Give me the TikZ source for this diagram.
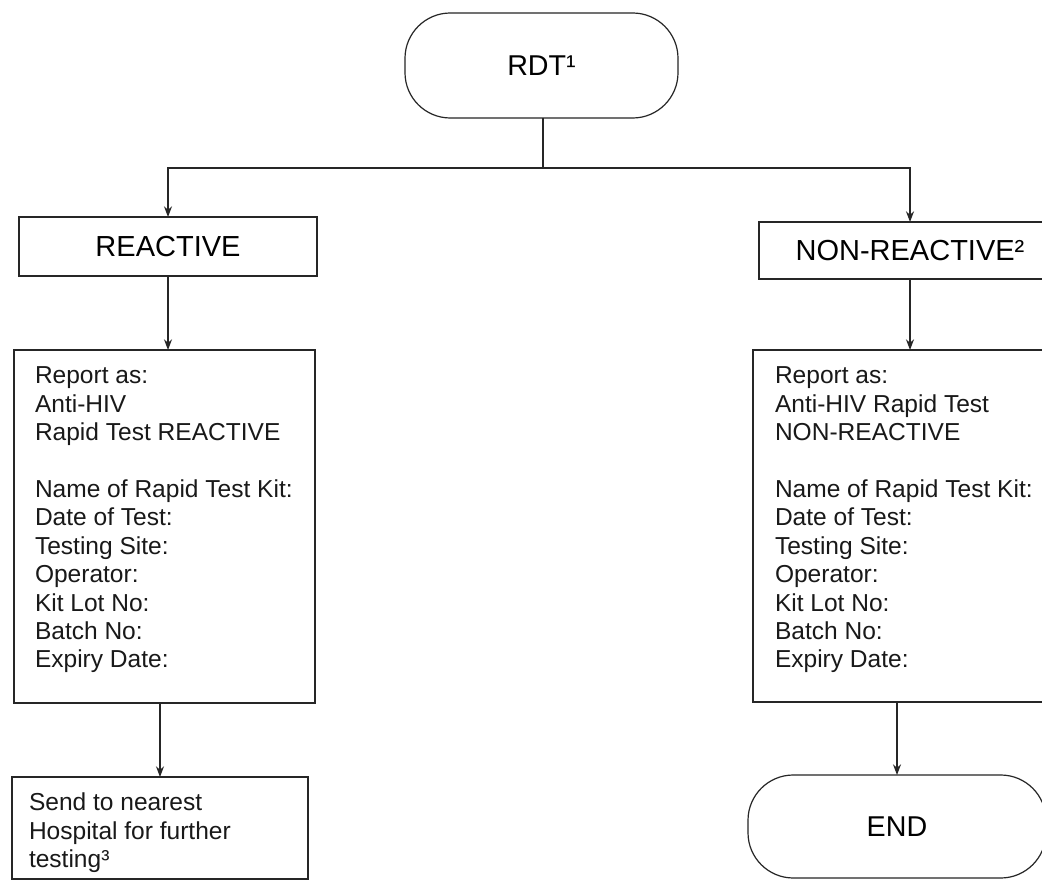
\documentclass[tikz,border=0pt]{standalone}
\usepackage{fontspec}
\setmainfont{Liberation Sans}
\usetikzlibrary{arrows.meta}
\tikzset{
  ln/.style={draw=black!85, line width=0.9pt},
  arr/.style={ln, -{Stealth[length=8pt,width=6pt]}},
  boxbase/.style={ln, rectangle, inner sep=0pt, outer sep=0pt},
  termbox/.style={boxbase, rounded corners=34pt, font=\fontsize{21.5}{24}\selectfont},
  labbox/.style={boxbase, font=\fontsize{21.75}{24}\selectfont},
  plainbox/.style={boxbase},
  bodytext/.style={inner sep=0pt, outer sep=0pt, align=left, anchor=north west,
    font=\fontsize{18.4}{21.3}\selectfont, text=black!90}
}
\begin{document}
\begin{tikzpicture}[x=0.75pt, y=-0.75pt]
\useasboundingbox (0,0) rectangle (1042,880);
\fill[white] (0,0) rectangle (1042,880);
\clip (0,0) rectangle (1042,880);

% terminals
\node[termbox, minimum width=204.75pt, minimum height=78.75pt] (rdt) at (541.5,65.5) {RDT¹};
\node[termbox, minimum width=223.5pt, minimum height=77.25pt] (endn) at (897,826.5) {END};

% label boxes
\node[labbox, minimum width=223.5pt, minimum height=44.25pt] (reactive) at (168,246.5) {REACTIVE};
\node[labbox, minimum width=226.5pt, minimum height=42.75pt] (nonreact) at (910,250.5) {NON-REACTIVE²};

% report boxes
\node[plainbox, minimum width=225.75pt, minimum height=264.75pt] (repL) at (164.5,526.5) {};
\node[plainbox, minimum width=232.5pt, minimum height=264pt] (repR) at (908,526) {};
\node[plainbox, minimum width=222pt, minimum height=76.5pt] (send) at (160,828) {};

% texts
\node[bodytext] (repLtxt) at (35,367) {Report as:\\Anti-HIV\\Rapid Test REACTIVE\\[21.3pt]Name of Rapid Test Kit:\\Date of Test:\\Testing Site:\\Operator:\\Kit Lot No:\\Batch No:\\Expiry Date:};
\node[bodytext] (repRtxt) at (775,367) {Report as:\\Anti-HIV Rapid Test\\NON-REACTIVE\\[21.3pt]Name of Rapid Test Kit:\\Date of Test:\\Testing Site:\\Operator:\\Kit Lot No:\\Batch No:\\Expiry Date:};
\node[bodytext] (sendtxt) at (29,793) {Send to nearest\\Hospital for further\\testing³};

% connectors
\coordinate (j) at (543,168);
\draw[ln] (rdt.south -| j) -- (j);
\draw[arr] (j) -| (reactive.north);
\draw[arr] (j) -| (nonreact.north);
\draw[arr] (reactive.south) -- (reactive.south |- repL.north);
\draw[arr] (nonreact.south) -- (nonreact.south |- repR.north);
\draw[arr] (send.north |- repL.south) -- (send.north);
\draw[arr] (endn.north |- repR.south) -- (endn.north);
\end{tikzpicture}
\end{document}
